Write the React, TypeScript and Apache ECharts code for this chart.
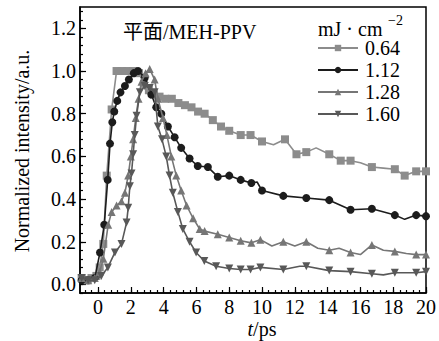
import React, { useEffect, useRef } from "react";
import * as echarts from "echarts";

const FONT = "'Liberation Serif', 'Times New Roman', 'Noto Sans CJK SC', serif";

const seriesNames = ["0.64", "1.12", "1.28", "1.60"];
const seriesColors = ["#8c8c8c", "#1c1c1c", "#767676", "#585858"];

// 0.64 mJ/cm2 (squares)
const t064 = [-1.0, -0.7, -0.4, -0.1, 0.1, 0.32, 0.53, 0.83, 1.13, 1.45, 1.8, 2.15, 2.5, 2.8, 3.1, 3.4, 3.75, 4.1, 4.5, 4.9, 5.3, 5.7, 6.1, 6.5, 7.0, 7.5, 8.0, 8.7, 9.3, 10.0, 10.7, 11.4, 12.1, 12.7, 13.3, 14.1, 14.8, 15.4, 16.0, 16.7, 17.4, 18.1, 18.7, 19.4, 20.0];
const v064 = [0.03, 0.02, 0.03, 0.04, 0.08, 0.19, 0.51, 0.82, 1.0, 1.0, 1.0, 1.0, 0.99, 0.94, 0.91, 0.89, 0.88, 0.87, 0.87, 0.85, 0.84, 0.83, 0.81, 0.8, 0.77, 0.74, 0.72, 0.7, 0.7, 0.67, 0.655, 0.68, 0.61, 0.62, 0.64, 0.61, 0.58, 0.58, 0.57, 0.55, 0.545, 0.54, 0.51, 0.53, 0.53];
const bare064 = [10.7, 13.3, 16.0, 17.4];

// 1.12 mJ/cm2 (circles)
const t112 = [-1.0, -0.6, -0.2, 0.12, 0.38, 0.59, 0.73, 0.87, 0.99, 1.17, 1.37, 1.64, 1.88, 2.18, 2.44, 2.85, 3.25, 3.55, 3.86, 4.26, 4.67, 5.07, 5.58, 6.08, 6.7, 7.3, 8.0, 8.7, 9.35, 9.7, 10.0, 11.3, 12.7, 14.1, 15.4, 16.7, 18.1, 18.7, 19.4, 20.0];
const v112 = [0.02, 0.02, 0.03, 0.15, 0.28, 0.49, 0.66, 0.76, 0.81, 0.86, 0.9, 0.93, 0.96, 0.99, 1.0, 0.97, 0.89, 0.83, 0.8, 0.74, 0.69, 0.64, 0.59, 0.555, 0.55, 0.505, 0.51, 0.49, 0.475, 0.48, 0.44, 0.415, 0.405, 0.395, 0.35, 0.355, 0.325, 0.305, 0.325, 0.32];
const bare112 = [9.7, 18.7];

// 1.28 mJ/cm2 (triangles)
const t128 = [-1.0, -0.6, -0.2, 0.1, 0.32, 0.62, 0.83, 1.13, 1.43, 1.64, 1.84, 2.0, 2.14, 2.3, 2.47, 2.65, 2.9, 3.15, 3.45, 3.65, 3.96, 4.2, 4.47, 4.77, 5.07, 5.4, 5.8, 6.2, 6.5, 7.3, 8.0, 8.7, 9.35, 9.9, 10.6, 11.3, 12.0, 12.7, 13.4, 14.1, 14.7, 15.4, 16.0, 16.7, 17.4, 18.1, 18.8, 19.4, 20.0];
const v128 = [0.03, 0.02, 0.03, 0.06, 0.12, 0.28, 0.34, 0.37, 0.39, 0.43, 0.51, 0.6, 0.68, 0.78, 0.87, 0.95, 0.99, 1.01, 0.96, 0.87, 0.78, 0.7, 0.6, 0.51, 0.44, 0.37, 0.31, 0.26, 0.25, 0.235, 0.22, 0.205, 0.195, 0.21, 0.18, 0.2, 0.18, 0.2, 0.17, 0.16, 0.17, 0.15, 0.14, 0.185, 0.16, 0.155, 0.145, 0.14, 0.14];
const bare128 = [10.6, 12.0, 13.4, 14.7, 16.0, 17.4, 18.8];

// 1.60 mJ/cm2 (inverted triangles)
const t160 = [-1.0, -0.6, -0.2, 0.2, 0.6, 1.03, 1.43, 1.74, 1.84, 1.94, 2.04, 2.14, 2.24, 2.35, 2.55, 2.85, 3.15, 3.45, 3.65, 3.9, 4.16, 4.36, 4.56, 4.87, 5.17, 5.58, 5.98, 6.48, 7.2, 8.0, 8.7, 9.3, 9.9, 11.3, 12.3, 12.7, 14.1, 15.4, 16.7, 17.4, 18.1, 19.4, 20.0];
const v160 = [0.03, 0.02, 0.02, 0.04, 0.08, 0.15, 0.19, 0.29, 0.36, 0.46, 0.52, 0.61, 0.7, 0.79, 0.9, 0.93, 0.92, 0.9, 0.74, 0.68, 0.6, 0.51, 0.43, 0.34, 0.26, 0.2, 0.15, 0.11, 0.085, 0.075, 0.07, 0.07, 0.08, 0.07, 0.085, 0.085, 0.065, 0.06, 0.05, 0.045, 0.055, 0.055, 0.06];
const bare160 = [12.3, 17.4];

const xTicks = [0, 2, 4, 6, 8, 10, 12, 14, 16, 18, 20];
const yTicks = [0, 0.2, 0.4, 0.6, 0.8, 1.0, 1.2];

const X_MIN = -1.1;
const X_MAX = 20;
const Y_MIN = -0.04;
const Y_MAX = 1.3;

function build(ts: number[], vs: number[], bare: number[]) {
  return ts.map((t, i) =>
    bare.includes(t) ? { value: [t, vs[i]], symbol: "none" } : { value: [t, vs[i]] }
  );
}

export default function App() {
  const ref = useRef<HTMLDivElement>(null);
  useEffect(() => {
    document.body.style.margin = "0";
    if (!ref.current) return;
    const chart = echarts.init(ref.current, null, { renderer: "svg" });
    const xMinor: number[] = [];
    for (let k = -2; k <= 50; k++) {
      const v = Math.round(k * 0.4 * 100) / 100;
      if (v >= X_MIN && v <= X_MAX) xMinor.push(v);
    }
    const yMinor: number[] = [];
    for (let k = -1; k <= 33; k++) {
      const v = Math.round(k * 0.04 * 1000) / 1000;
      if (v >= Y_MIN && v <= Y_MAX) yMinor.push(v);
    }
    const symbols = ["rect", "circle", "triangle", "triangle"];
    const rot = [0, 0, 0, 180];
    const datas = [
      build(t064, v064, bare064),
      build(t112, v112, bare112),
      build(t128, v128, bare128),
      build(t160, v160, bare160),
    ];
    const axisTextStyle = { color: "#000", fontSize: 20, fontFamily: FONT };
    chart.setOption({
      animation: false,
      grid: {
        left: 80,
        top: 7,
        width: 348,
        height: 286,
        show: true,
        borderColor: "#000",
        borderWidth: 1.5,
        backgroundColor: "transparent",
      },
      xAxis: [
        {
          type: "value",
          min: X_MIN,
          max: X_MAX,
          position: "bottom",
          axisLine: { show: true, onZero: false, lineStyle: { color: "#000", width: 1.5 } },
          axisTick: { show: true, inside: true, length: 6, customValues: xTicks, lineStyle: { color: "#000", width: 1.2 } },
          axisLabel: { ...axisTextStyle, customValues: xTicks, margin: 4 },
          splitLine: { show: false },
        },
        {
          type: "value",
          min: X_MIN,
          max: X_MAX,
          position: "bottom",
          axisLine: { show: false, onZero: false },
          axisTick: { show: true, inside: true, length: 3, customValues: xMinor, lineStyle: { color: "#000", width: 1.2 } },
          axisLabel: { show: false },
          splitLine: { show: false },
        },
      ],
      yAxis: [
        {
          type: "value",
          min: Y_MIN,
          max: Y_MAX,
          position: "left",
          axisLine: { show: true, onZero: false, lineStyle: { color: "#000", width: 1.5 } },
          axisTick: { show: true, inside: true, length: 6, customValues: yTicks, lineStyle: { color: "#000", width: 1.2 } },
          axisLabel: { ...axisTextStyle, customValues: yTicks, margin: 4, formatter: (v: number) => v.toFixed(1) },
          splitLine: { show: false },
        },
        {
          type: "value",
          min: Y_MIN,
          max: Y_MAX,
          position: "left",
          axisLine: { show: false, onZero: false },
          axisTick: { show: true, inside: true, length: 3, customValues: yMinor, lineStyle: { color: "#000", width: 1.2 } },
          axisLabel: { show: false },
          splitLine: { show: false },
        },
      ],
      legend: {
        left: 317,
        top: 38,
        orient: "vertical",
        itemWidth: 40,
        itemHeight: 8,
        itemGap: 2,
        padding: 0,
        data: seriesNames,
        textStyle: { color: "#000", fontSize: 20, fontFamily: FONT, padding: [0, 0, 0, 2] },
      },
      graphic: [
        {
          type: "text",
          left: 123,
          top: 22,
          style: { text: "平面/MEH-PPV", fontSize: 20, fontFamily: FONT, fill: "#000" },
        },
        {
          type: "text",
          left: 318,
          top: 19,
          style: { text: "mJ · cm", fontSize: 20, fontFamily: FONT, fill: "#000" },
        },
        {
          type: "text",
          left: 388,
          top: 13,
          style: { text: "−2", fontSize: 14, fontFamily: FONT, fill: "#000" },
        },
        {
          type: "text",
          x: 22,
          y: 151,
          rotation: Math.PI / 2,
          style: {
            text: "Normalized intensity/a.u.",
            fontSize: 20,
            fontFamily: FONT,
            fill: "#000",
            align: "center",
            verticalAlign: "middle",
          },
        },
        {
          type: "text",
          x: 262,
          y: 329,
          style: {
            text: "{i|t}/ps",
            fontSize: 20,
            fontFamily: FONT,
            fill: "#000",
            align: "center",
            verticalAlign: "middle",
            rich: { i: { fontStyle: "italic", fontSize: 20, fontFamily: FONT, fill: "#000" } },
          },
        },
      ],
      series: seriesNames.map((name, i) => ({
        name,
        type: "line",
        xAxisIndex: 0,
        yAxisIndex: 0,
        data: datas[i],
        symbol: symbols[i],
        symbolRotate: rot[i],
        symbolSize: 8,
        showAllSymbol: true,
        color: seriesColors[i],
        lineStyle: { color: seriesColors[i], width: 1.6 },
        itemStyle: { color: seriesColors[i] },
        z: 2 + i,
      })),
    });
    return () => chart.dispose();
  }, []);
  return <div ref={ref} style={{ width: 439, height: 341 }} />;
}
